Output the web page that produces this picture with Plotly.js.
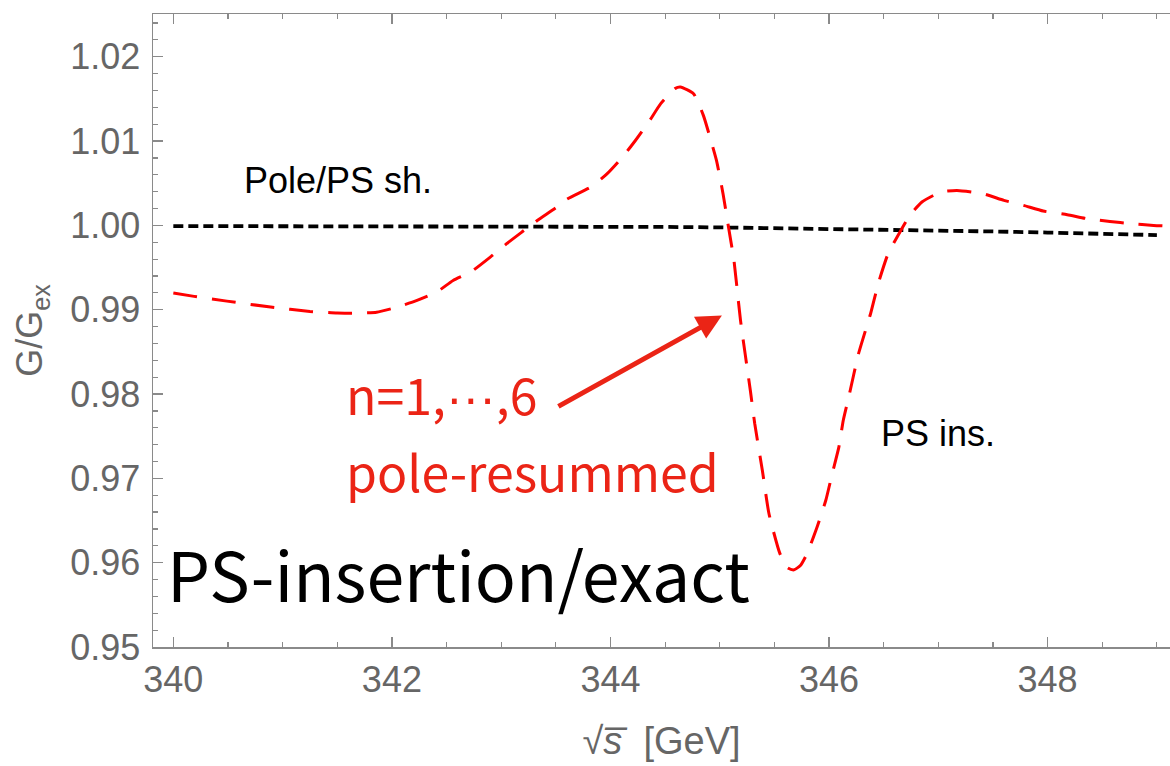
<!DOCTYPE html>
<html>
<head>
<meta charset="utf-8">
<script src="https://cdn.plot.ly/plotly-3.0.1.min.js"></script>
<style>html,body{margin:0;padding:0;background:#fff;} #chart{width:1170px;height:766px;}</style>
</head>
<body>
<div id="chart"></div>
<script>
// sqrt(s) [GeV]
const xRed = [340.00, 340.19, 340.49, 340.89, 341.25, 341.50, 341.67, 341.86, 342.05, 342.23,
  342.41, 342.56, 342.72, 342.90, 343.05, 343.21, 343.33, 343.51, 343.60, 343.83,
  343.97, 344.11, 344.23, 344.35, 344.46, 344.59, 344.64, 344.76, 344.85, 344.91,
  344.97, 345.03, 345.08, 345.13, 345.19, 345.28, 345.32, 345.39, 345.45, 345.55,
  345.62, 345.68, 345.74, 345.80, 345.89, 345.97, 346.03, 346.09, 346.13, 346.18,
  346.27, 346.38, 346.45, 346.54, 346.64, 346.74, 346.85, 347.02, 347.17, 347.41,
  347.60, 347.78, 347.96, 348.18, 348.36, 348.57, 348.76, 348.97, 349.12];
// n=1..6 pole-resummed, PS insertion / exact
const yRed = [0.99197, 0.99158, 0.99102, 0.99031, 0.98980, 0.98960, 0.98960, 0.98971, 0.99031, 0.99110,
  0.99209, 0.99347, 0.99446, 0.99624, 0.99783, 0.99941, 1.00059, 1.00217, 1.00310, 1.00463,
  1.00613, 1.00810, 1.01010, 1.01226, 1.01444, 1.01622, 1.01641, 1.01562, 1.01305, 1.01048,
  1.00771, 1.00376, 0.99980, 0.99585, 0.98873, 0.98042, 0.97650, 0.97093, 0.96583, 0.96110,
  0.95940, 0.95915, 0.95970, 0.96110, 0.96420, 0.96737, 0.97060, 0.97370, 0.97687, 0.97963,
  0.98478, 0.98952, 0.99308, 0.99664, 0.99901, 1.00119, 1.00277, 1.00395, 1.00415, 1.00376,
  1.00297, 1.00237, 1.00170, 1.00127, 1.00080, 1.00047, 1.00020, 1.00000, 0.99990];
// Pole / PS shift
const xBlack = [340, 341, 342, 343, 344, 344.5, 345, 345.5, 346, 346.5, 347, 347.5, 348, 348.5, 349];
const yBlack = [0.99992, 0.99992, 0.99991, 0.99990, 0.99985, 0.99982, 0.99976, 0.99968, 0.99960,
  0.99950, 0.99940, 0.99928, 0.99915, 0.99902, 0.99885];

const xTicks = [340, 342, 344, 346, 348];
const yTicks = [0.95, 0.96, 0.97, 0.98, 0.99, 1.00, 1.01, 1.02];

const axisGray = '#8a8a8a';
const labelGray = '#666666';
const redText = '#eb2416';
const sansFont = "'Liberation Sans', Arial, Helvetica, sans-serif";
const cjkFont = "'Noto Sans CJK JP', 'Noto Sans CJK SC', sans-serif";

const traces = [
  {x: xBlack, y: yBlack, mode: 'lines', type: 'scatter',
   line: {color: '#000000', width: 3.8, dash: '10px,5px'}, hoverinfo: 'skip'},
  {x: xRed, y: yRed, mode: 'lines', type: 'scatter',
   line: {color: '#ff0000', width: 3, dash: '24px,15px', shape: 'spline', smoothing: 0.5}, hoverinfo: 'skip'}
];

const layout = {
  width: 1170, height: 766,
  margin: {l: 153, r: 0, t: 14, b: 119},
  paper_bgcolor: '#ffffff', plot_bgcolor: '#ffffff',
  showlegend: false,
  xaxis: {
    range: [339.814, 349.12], tickvals: xTicks, ticktext: xTicks.map(String),
    ticks: 'inside', ticklen: 10, tickwidth: 1.3, tickcolor: axisGray,
    minor: {dtick: 0.5, ticks: 'inside', ticklen: 5, tickwidth: 1.2, tickcolor: axisGray},
    showline: true, linecolor: axisGray, linewidth: 1.5, mirror: 'ticks',
    showgrid: false, zeroline: false,
    tickfont: {family: sansFont, size: 36, color: labelGray},
    title: {text: '√<i>s̅</i>  [GeV]', font: {family: sansFont, size: 38, color: labelGray}, standoff: 28}
  },
  yaxis: {
    range: [0.95, 1.02507], tickvals: yTicks, ticktext: yTicks.map(v => v.toFixed(2)),
    ticks: 'inside', ticklen: 10, tickwidth: 1.3, tickcolor: axisGray,
    minor: {dtick: 0.002, ticks: 'inside', ticklen: 5, tickwidth: 1.2, tickcolor: axisGray},
    showline: true, linecolor: axisGray, linewidth: 1.5, mirror: false,
    showgrid: false, zeroline: false,
    tickfont: {family: sansFont, size: 36, color: labelGray},
    ticklabelstandoff: 4,
    title: {text: 'G/G<sub>ex</sub>', font: {family: sansFont, size: 36, color: labelGray}, standoff: 16}
  },
  annotations: [
    {x: 341.505, y: 1.00534, xref: 'x', yref: 'y', text: 'Pole/PS sh.', showarrow: false,
     font: {family: sansFont, size: 36, color: '#000000'}, xanchor: 'center', yanchor: 'middle'},
    {x: 346.995, y: 0.97532, xref: 'x', yref: 'y', text: 'PS ins.', showarrow: false,
     font: {family: sansFont, size: 36, color: '#000000'}, xanchor: 'center', yanchor: 'middle'},
    {x: 341.56, y: 0.98013, xref: 'x', yref: 'y',
     text: 'n=1,<span style="font-family:Liberation Sans">···</span>,6', showarrow: false,
     font: {family: cjkFont, size: 50, color: redText}, xanchor: 'left', yanchor: 'middle'},
    {x: 341.56, y: 0.97105, xref: 'x', yref: 'y', text: 'pole-resummed', showarrow: false,
     font: {family: cjkFont, size: 50, color: redText}, xanchor: 'left', yanchor: 'middle'},
    {x: 339.92, y: 0.95884, xref: 'x', yref: 'y', text: 'PS-insertion/exact', showarrow: false,
     font: {family: cjkFont, size: 68, color: '#000000'}, xanchor: 'left', yanchor: 'middle'},
    {x: 345.02, y: 0.98932, xref: 'x', yref: 'y', ax: 343.51, ay: 0.97844, axref: 'x', ayref: 'y',
     text: '', showarrow: true, arrowhead: 2, arrowsize: 1, arrowwidth: 5, arrowcolor: redText, standoff: 0}
  ]
};

Plotly.newPlot('chart', traces, layout, {staticPlot: true, displayModeBar: false});
</script>
</body>
</html>
